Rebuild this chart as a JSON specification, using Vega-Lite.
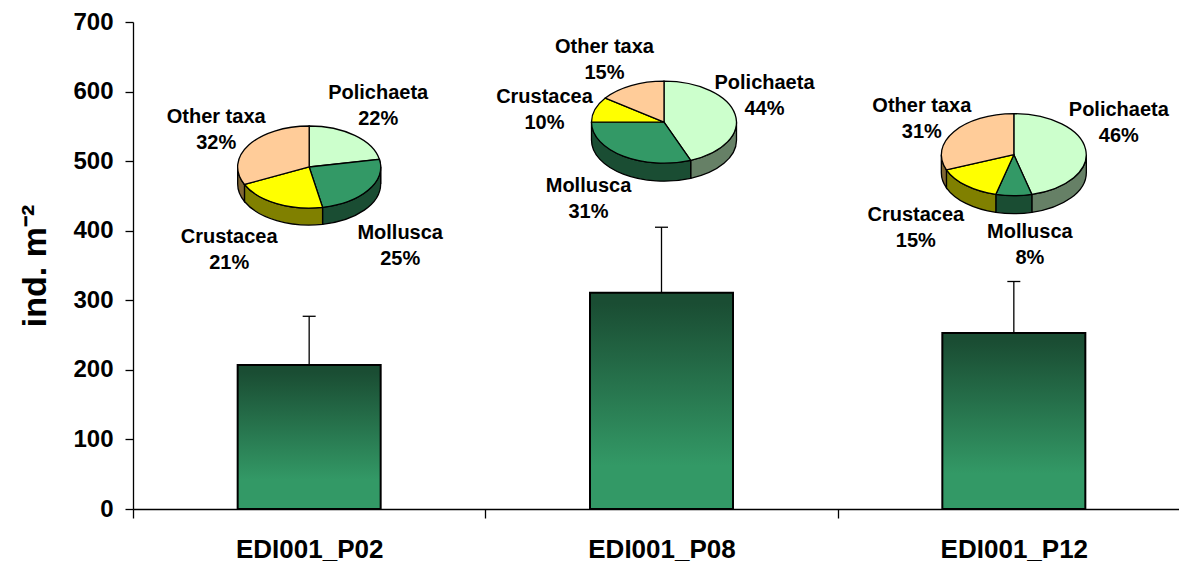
{"$schema":"https://vega.github.io/schema/vega-lite/v6.json","width":1057,"height":487,"autosize":{"type":"none"},"padding":{"left":133,"top":22,"right":0,"bottom":53},"background":"white","config":{"view":{"stroke":null},"font":"Liberation Sans"},
"datasets":{"sites":[{"site":"EDI001_P02","mean":207,"upper":277},{"site":"EDI001_P08","mean":311,"upper":405},{"site":"EDI001_P12","mean":253,"upper":327}],
"taxa":[{"site":"EDI001_P02","taxon":"Polichaeta","share":22,"label":"Polichaeta\n22%"},{"site":"EDI001_P02","taxon":"Mollusca","share":25,"label":"Mollusca\n25%"},{"site":"EDI001_P02","taxon":"Crustacea","share":21,"label":"Crustacea\n21%"},{"site":"EDI001_P02","taxon":"Other taxa","share":32,"label":"Other taxa\n32%"},
{"site":"EDI001_P08","taxon":"Polichaeta","share":44,"label":"Polichaeta\n44%"},{"site":"EDI001_P08","taxon":"Mollusca","share":31,"label":"Mollusca\n31%"},{"site":"EDI001_P08","taxon":"Crustacea","share":10,"label":"Crustacea\n10%"},{"site":"EDI001_P08","taxon":"Other taxa","share":15,"label":"Other taxa\n15%"},
{"site":"EDI001_P12","taxon":"Polichaeta","share":46,"label":"Polichaeta\n46%"},{"site":"EDI001_P12","taxon":"Mollusca","share":8,"label":"Mollusca\n8%"},{"site":"EDI001_P12","taxon":"Crustacea","share":15,"label":"Crustacea\n15%"},{"site":"EDI001_P12","taxon":"Other taxa","share":31,"label":"Other taxa\n31%"}]},
"encoding":{"x":{"field":"site","type":"nominal","title":null,"scale":{"paddingInner":0,"paddingOuter":0},"axis":{"labelAngle":0,"labelFontSize":26,"labelFontWeight":"bold","labelColor":"black","labelPadding":18,"tickSize":9,"tickColor":"black","domainColor":"black","tickBand":"extent","grid":false,"domainWidth":1.3,"tickWidth":1.3}}},
"resolve":{"scale":{"shape":"independent","fill":"independent"}},
"layer":[
{"data":{"name":"sites"},"mark":{"type":"rule","stroke":"black","strokeWidth":1.3},"encoding":{"y":{"field":"mean","type":"quantitative","scale":{"domain":[0,700]},"title":"ind. m⁻²","axis":{"values":[0,100,200,300,400,500,600,700],"labelFontSize":24,"labelFontWeight":"bold","labelColor":"black","labelPadding":12,"tickSize":8,"tickColor":"black","domainColor":"black","grid":false,"titleFontSize":34,"titleFontWeight":"bold","titleColor":"black","titlePadding":20,"domainWidth":1.3,"tickWidth":1.3}},"y2":{"field":"upper"}}},
{"data":{"name":"sites"},"mark":{"type":"tick","color":"black","size":13,"thickness":1.3,"opacity":1},"encoding":{"y":{"field":"upper","type":"quantitative"}}},
{"data":{"name":"sites"},"mark":{"type":"bar","size":143,"stroke":"black","strokeWidth":2,"color":{"gradient":"linear","x1":0,"y1":0,"x2":0,"y2":1,"stops":[{"offset":0.05,"color":"#1a4d33"},{"offset":0.8,"color":"#339966"},{"offset":1,"color":"#339966"}]}},"encoding":{"y":{"field":"mean","type":"quantitative"}}},

{"data":{"name":"taxa"},"transform":[{"filter":"datum.site==='EDI001_P02'"}],"mark":{"type":"point","filled":true,"size":4,"opacity":1,"stroke":"black","strokeWidth":1.3},"encoding":{"y":{"datum":491.6,"type":"quantitative"},"fill":{"field":"taxon","type":"nominal","legend":null,"scale":{"domain":["Polichaeta","Mollusca","Crustacea","Other taxa"],"range":["#668066","#1a4d33","#808000","#806633"]}},"shape":{"field":"taxon","type":"nominal","legend":null,"scale":{"domain":["Polichaeta","Mollusca","Crustacea","Other taxa"],"range":["M70.2,-7.7A71.5,41 0 0 1 71.5,0L71.5,17A71.5,41 0 0 0 70.2,9.3Z","M71.5,0A71.5,41 0 0 1 13.4,40.3L13.4,57.3A71.5,41 0 0 0 71.5,17Z","M13.4,40.3A71.5,41 0 0 1 -64.7,17.5L-64.7,34.5A71.5,41 0 0 0 13.4,57.3Z","M-64.7,17.5A71.5,41 0 0 1 -71.5,0L-71.5,17A71.5,41 0 0 0 -64.7,34.5Z"]}}}},
{"data":{"name":"taxa"},"transform":[{"filter":"datum.site==='EDI001_P02'"}],"mark":{"type":"point","filled":true,"size":4,"opacity":1,"stroke":"black","strokeWidth":1.3},"encoding":{"y":{"datum":491.6,"type":"quantitative"},"fill":{"field":"taxon","type":"nominal","legend":null,"scale":{"domain":["Polichaeta","Mollusca","Crustacea","Other taxa"],"range":["#ccffcc","#339966","#ffff00","#ffcc99"]}},"shape":{"field":"taxon","type":"nominal","legend":null,"scale":{"domain":["Polichaeta","Mollusca","Crustacea","Other taxa"],"range":["M0,0L0,-41A71.5,41 0 0 1 70.2,-7.7Z","M0,0L70.2,-7.7A71.5,41 0 0 1 13.4,40.3Z","M0,0L13.4,40.3A71.5,41 0 0 1 -64.7,17.5Z","M0,0L-64.7,17.5A71.5,41 0 0 1 0,-41Z"]}}}},

{"data":{"name":"taxa"},"transform":[{"filter":"datum.site==='EDI001_P08' && (datum.taxon==='Polichaeta' || datum.taxon==='Mollusca')"}],"mark":{"type":"point","filled":true,"size":4,"opacity":1,"stroke":"black","strokeWidth":1.3,"xOffset":2.5},"encoding":{"y":{"datum":556,"type":"quantitative"},"fill":{"field":"taxon","type":"nominal","legend":null,"scale":{"domain":["Polichaeta","Mollusca"],"range":["#668066","#1a4d33"]}},"shape":{"field":"taxon","type":"nominal","legend":null,"scale":{"domain":["Polichaeta","Mollusca"],"range":["M72.5,0A72.5,41 0 0 1 26.7,38.1L26.7,56.1A72.5,41 0 0 0 72.5,18Z","M26.7,38.1A72.5,41 0 0 1 -72.5,0L-72.5,18A72.5,41 0 0 0 26.7,56.1Z"]}}}},
{"data":{"name":"taxa"},"transform":[{"filter":"datum.site==='EDI001_P08'"}],"mark":{"type":"point","filled":true,"size":4,"opacity":1,"stroke":"black","strokeWidth":1.3,"xOffset":2.5},"encoding":{"y":{"datum":556,"type":"quantitative"},"fill":{"field":"taxon","type":"nominal","legend":null,"scale":{"domain":["Polichaeta","Mollusca","Crustacea","Other taxa"],"range":["#ccffcc","#339966","#ffff00","#ffcc99"]}},"shape":{"field":"taxon","type":"nominal","legend":null,"scale":{"domain":["Polichaeta","Mollusca","Crustacea","Other taxa"],"range":["M0,0L0,-41A72.5,41 0 0 1 26.7,38.1Z","M0,0L26.7,38.1A72.5,41 0 0 1 -72.5,0Z","M0,0L-72.5,0A72.5,41 0 0 1 -58.7,-24.1Z","M0,0L-58.7,-24.1A72.5,41 0 0 1 0,-41Z"]}}}},

{"data":{"name":"taxa"},"transform":[{"filter":"datum.site==='EDI001_P12'"}],"mark":{"type":"point","filled":true,"size":4,"opacity":1,"stroke":"black","strokeWidth":1.3},"encoding":{"y":{"datum":509.3,"type":"quantitative"},"fill":{"field":"taxon","type":"nominal","legend":null,"scale":{"domain":["Polichaeta","Mollusca","Crustacea","Other taxa"],"range":["#668066","#1a4d33","#808000","#806633"]}},"shape":{"field":"taxon","type":"nominal","legend":null,"scale":{"domain":["Polichaeta","Mollusca","Crustacea","Other taxa"],"range":["M72.5,0A72.5,41 0 0 1 18,39.7L18,57.7A72.5,41 0 0 0 72.5,18Z","M18,39.7A72.5,41 0 0 1 -18,39.7L-18,57.7A72.5,41 0 0 0 18,57.7Z","M-18,39.7A72.5,41 0 0 1 -67.4,15.1L-67.4,33.1A72.5,41 0 0 0 -18,57.7Z","M-67.4,15.1A72.5,41 0 0 1 -72.5,0L-72.5,18A72.5,41 0 0 0 -67.4,33.1Z"]}}}},
{"data":{"name":"taxa"},"transform":[{"filter":"datum.site==='EDI001_P12'"}],"mark":{"type":"point","filled":true,"size":4,"opacity":1,"stroke":"black","strokeWidth":1.3},"encoding":{"y":{"datum":509.3,"type":"quantitative"},"fill":{"field":"taxon","type":"nominal","legend":null,"scale":{"domain":["Polichaeta","Mollusca","Crustacea","Other taxa"],"range":["#ccffcc","#339966","#ffff00","#ffcc99"]}},"shape":{"field":"taxon","type":"nominal","legend":null,"scale":{"domain":["Polichaeta","Mollusca","Crustacea","Other taxa"],"range":["M0,0L0,-41A72.5,41 0 0 1 18,39.7Z","M0,0L18,39.7A72.5,41 0 0 1 -18,39.7Z","M0,0L-18,39.7A72.5,41 0 0 1 -67.4,15.1Z","M0,0L-67.4,15.1A72.5,41 0 0 1 0,-41Z"]}}}},

{"data":{"name":"taxa"},"transform":[{"filter":"datum.site==='EDI001_P02' && datum.taxon==='Polichaeta'"}],"mark":{"type":"text","fontSize":20,"fontWeight":"bold","lineBreak":"\n","lineHeight":26,"color":"black","dx":69,"dy":-74},"encoding":{"y":{"datum":491.6,"type":"quantitative"},"text":{"field":"label"}}},
{"data":{"name":"taxa"},"transform":[{"filter":"datum.site==='EDI001_P02' && datum.taxon==='Mollusca'"}],"mark":{"type":"text","fontSize":20,"fontWeight":"bold","lineBreak":"\n","lineHeight":26,"color":"black","dx":91,"dy":66},"encoding":{"y":{"datum":491.6,"type":"quantitative"},"text":{"field":"label"}}},
{"data":{"name":"taxa"},"transform":[{"filter":"datum.site==='EDI001_P02' && datum.taxon==='Crustacea'"}],"mark":{"type":"text","fontSize":20,"fontWeight":"bold","lineBreak":"\n","lineHeight":26,"color":"black","dx":-80,"dy":70},"encoding":{"y":{"datum":491.6,"type":"quantitative"},"text":{"field":"label"}}},
{"data":{"name":"taxa"},"transform":[{"filter":"datum.site==='EDI001_P02' && datum.taxon==='Other taxa'"}],"mark":{"type":"text","fontSize":20,"fontWeight":"bold","lineBreak":"\n","lineHeight":26,"color":"black","dx":-93,"dy":-50},"encoding":{"y":{"datum":491.6,"type":"quantitative"},"text":{"field":"label"}}},

{"data":{"name":"taxa"},"transform":[{"filter":"datum.site==='EDI001_P08' && datum.taxon==='Polichaeta'"}],"mark":{"type":"text","fontSize":20,"fontWeight":"bold","lineBreak":"\n","lineHeight":26,"color":"black","dx":103,"dy":-39},"encoding":{"y":{"datum":556,"type":"quantitative"},"text":{"field":"label"}}},
{"data":{"name":"taxa"},"transform":[{"filter":"datum.site==='EDI001_P08' && datum.taxon==='Mollusca'"}],"mark":{"type":"text","fontSize":20,"fontWeight":"bold","lineBreak":"\n","lineHeight":26,"color":"black","dx":-73,"dy":64},"encoding":{"y":{"datum":556,"type":"quantitative"},"text":{"field":"label"}}},
{"data":{"name":"taxa"},"transform":[{"filter":"datum.site==='EDI001_P08' && datum.taxon==='Crustacea'"}],"mark":{"type":"text","fontSize":20,"fontWeight":"bold","lineBreak":"\n","lineHeight":26,"color":"black","dx":-117,"dy":-25},"encoding":{"y":{"datum":556,"type":"quantitative"},"text":{"field":"label"}}},
{"data":{"name":"taxa"},"transform":[{"filter":"datum.site==='EDI001_P08' && datum.taxon==='Other taxa'"}],"mark":{"type":"text","fontSize":20,"fontWeight":"bold","lineBreak":"\n","lineHeight":26,"color":"black","dx":-57,"dy":-75},"encoding":{"y":{"datum":556,"type":"quantitative"},"text":{"field":"label"}}},

{"data":{"name":"taxa"},"transform":[{"filter":"datum.site==='EDI001_P12' && datum.taxon==='Polichaeta'"}],"mark":{"type":"text","fontSize":20,"fontWeight":"bold","lineBreak":"\n","lineHeight":26,"color":"black","dx":105,"dy":-45},"encoding":{"y":{"datum":509.3,"type":"quantitative"},"text":{"field":"label"}}},
{"data":{"name":"taxa"},"transform":[{"filter":"datum.site==='EDI001_P12' && datum.taxon==='Mollusca'"}],"mark":{"type":"text","fontSize":20,"fontWeight":"bold","lineBreak":"\n","lineHeight":26,"color":"black","dx":16,"dy":77},"encoding":{"y":{"datum":509.3,"type":"quantitative"},"text":{"field":"label"}}},
{"data":{"name":"taxa"},"transform":[{"filter":"datum.site==='EDI001_P12' && datum.taxon==='Crustacea'"}],"mark":{"type":"text","fontSize":20,"fontWeight":"bold","lineBreak":"\n","lineHeight":26,"color":"black","dx":-98,"dy":60},"encoding":{"y":{"datum":509.3,"type":"quantitative"},"text":{"field":"label"}}},
{"data":{"name":"taxa"},"transform":[{"filter":"datum.site==='EDI001_P12' && datum.taxon==='Other taxa'"}],"mark":{"type":"text","fontSize":20,"fontWeight":"bold","lineBreak":"\n","lineHeight":26,"color":"black","dx":-92,"dy":-49},"encoding":{"y":{"datum":509.3,"type":"quantitative"},"text":{"field":"label"}}}
]}
